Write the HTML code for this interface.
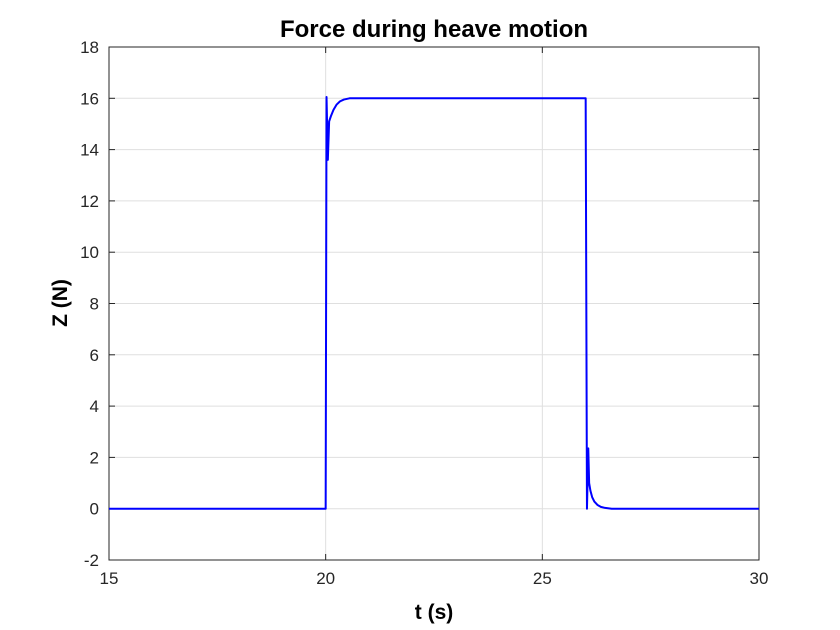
<!DOCTYPE html>
<html><head><meta charset="utf-8"><style>
body{margin:0;background:#fff;}
svg{display:block;font-family:"Liberation Sans",sans-serif;}
</style></head><body>
<svg id="chart" width="840" height="630">
<rect x="0" y="0" width="840" height="630" fill="#fff"/>
<g id="grid"></g>
<g id="axes"></g>
<polyline id="line" fill="none" stroke="#0000ff" stroke-width="2" stroke-linejoin="round"/>
<text x="434" y="37" text-anchor="middle" font-size="24" font-weight="bold">Force during heave motion</text>
<text x="434" y="619" text-anchor="middle" font-size="21" font-weight="bold">t (s)</text>
<text transform="translate(67,303) rotate(-90)" text-anchor="middle" font-size="21" font-weight="bold">Z (N)</text>
</svg>
<script>
const xTicks=[15,20,25,30];
const yTicks=[-2,0,2,4,6,8,10,12,14,16,18];
const tVals=[15,20,20.02,20.05,20.08,20.12,20.18,20.25,20.33,20.42,20.55,26,26.03,26.06,26.08,26.11,26.15,26.2,26.27,26.35,26.45,26.6,30];
const zVals=[0,0,16.05,13.6,15.1,15.3,15.55,15.75,15.88,15.95,16,16,0,2.35,1.0,0.7,0.45,0.28,0.15,0.07,0.03,0,0];
const L=109,R=759,T=47,B=560;
const sx=v=>L+(v-15)/15*(R-L);
const sy=v=>B-(v+2)/20*(B-T);
const ns='http://www.w3.org/2000/svg';
const grid=document.getElementById('grid'),axes=document.getElementById('axes');
function mk(p,tag,a){const e=document.createElementNS(ns,tag);for(const k in a)e.setAttribute(k,a[k]);p.appendChild(e);return e;}
xTicks.forEach(v=>{const x=sx(v);
 const g=mk(grid,'line',{x1:x,x2:x,y1:T,y2:B,stroke:'#dfdfdf','stroke-width':1});
 
 
 mk(axes,'line',{x1:x,x2:x,y1:B,y2:B-6,stroke:'#262626'});
 mk(axes,'line',{x1:x,x2:x,y1:T,y2:T+6,stroke:'#262626'});
 const t=mk(axes,'text',{x:x,y:B+24,'text-anchor':'middle','font-size':17,fill:'#262626'});t.textContent=v;
 
 
});
yTicks.forEach(v=>{const y=sy(v);
 const g=mk(grid,'line',{x1:L,x2:R,y1:y,y2:y,stroke:'#dfdfdf','stroke-width':1});
 
 
 mk(axes,'line',{x1:L,x2:L+6,y1:y,y2:y,stroke:'#262626'});
 mk(axes,'line',{x1:R,x2:R-6,y1:y,y2:y,stroke:'#262626'});
 const t=mk(axes,'text',{x:L-10,y:y+6,'text-anchor':'end','font-size':17,fill:'#262626'});t.textContent=v;
 
 
});
mk(axes,'rect',{x:L,y:T,width:R-L,height:B-T,fill:'none',stroke:'#262626','stroke-width':1});
document.getElementById('line').setAttribute('points',tVals.map((t,i)=>sx(t)+','+sy(zVals[i])).join(' '));
</script>
</body></html>
